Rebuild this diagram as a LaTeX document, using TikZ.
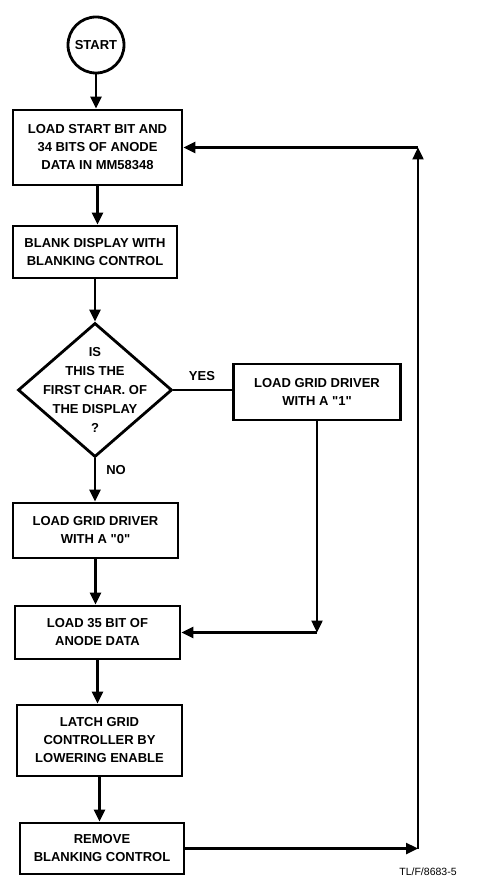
\documentclass[tikz,border=0pt]{standalone}
\usepackage{fontspec}
\setmainfont{Liberation Sans}[Ligatures=TeXOff]
\usetikzlibrary{shapes.geometric,arrows.meta}
\tikzset{
  boxnode/.style={draw, line width=2.8pt, rectangle, inner sep=0pt, align=center,
    font=\bfseries\fontsize{13}{18}\selectfont},
  txt/.style={inner sep=0pt, align=center, font=\bfseries\fontsize{13}{19}\selectfont},
  conn/.style={line width=2.4pt},
  arr/.style={conn, -{Triangle[length=12pt,width=11pt]}},
}
\begin{document}
\begin{tikzpicture}[x=1pt,y=-1pt]
\useasboundingbox (0,0) rectangle (479,877);
\node[draw, circle, line width=2.8pt, minimum size=56pt, inner sep=0pt,
  font=\bfseries\fontsize{13}{15}\selectfont] (st) at (96,45) {START};
\node[boxnode, minimum width=169pt, minimum height=75pt] (b1) at (97.5,147.5)
  {LOAD START BIT AND\\34 BITS OF ANODE\\DATA IN MM58348};
\node[boxnode, minimum width=164pt, minimum height=52pt] (b2) at (95,252)
  {BLANK DISPLAY WITH\\BLANKING CONTROL};
\node[draw, diamond, line width=2.8pt, minimum width=154pt, minimum height=134pt, inner sep=0pt] (d) at (95,390) {};
\node[txt] (dt) at (95,390) {IS\\THIS THE\\FIRST CHAR. OF\\THE DISPLAY\\?};
\node[boxnode, minimum width=167pt, minimum height=56pt] (b3) at (317,392)
  {LOAD GRID DRIVER\\WITH A "1"};
\node[boxnode, minimum width=165pt, minimum height=55pt] (b4) at (95.5,530.5)
  {LOAD GRID DRIVER\\WITH A "0"};
\node[boxnode, minimum width=165pt, minimum height=53pt] (b5) at (97.5,632.5)
  {LOAD 35 BIT OF\\ANODE DATA};
\node[boxnode, minimum width=165pt, minimum height=71pt] (b6) at (99.5,740.5)
  {LATCH GRID\\CONTROLLER BY\\LOWERING ENABLE};
\node[boxnode, minimum width=164pt, minimum height=51pt] (b7) at (102,848.5)
  {REMOVE\\BLANKING CONTROL};
\node[txt] (yes) at (202,376) {YES};
\node[txt] (no) at (116,470) {NO};
\node[inner sep=0pt, anchor=south, font=\fontsize{10.5}{12}\selectfont] (tl) at (428,876) {TL/F/8683-5};
\coordinate (c1) at (418,848.5);
\coordinate (c2) at (418,147.5);
\coordinate (c3) at (b3.south |- b5.east);
\draw[arr] (st.south) -- (st.south |- b1.north);
\draw[arr] (b1.south) -- (b1.south |- b2.north);
\draw[arr] (b2.south) -- (b2.south |- d.north);
\draw[conn] (d.east) -- (d.east -| b3.west);
\draw[arr] (d.south) -- (d.south |- b4.north);
\draw[arr] (b4.south) -- (b4.south |- b5.north);
\draw[arr] (b3.south) -- (c3);
\draw[arr] (c3) -- (b5.east);
\draw[arr] (b5.south) -- (b5.south |- b6.north);
\draw[arr] (b6.south) -- (b6.south |- b7.north);
\draw[arr] (b7.east) -- (c1);
\draw[arr] (c1) -- (c2);
\draw[arr] (c2) -- (b1.east);
\end{tikzpicture}
\end{document}
